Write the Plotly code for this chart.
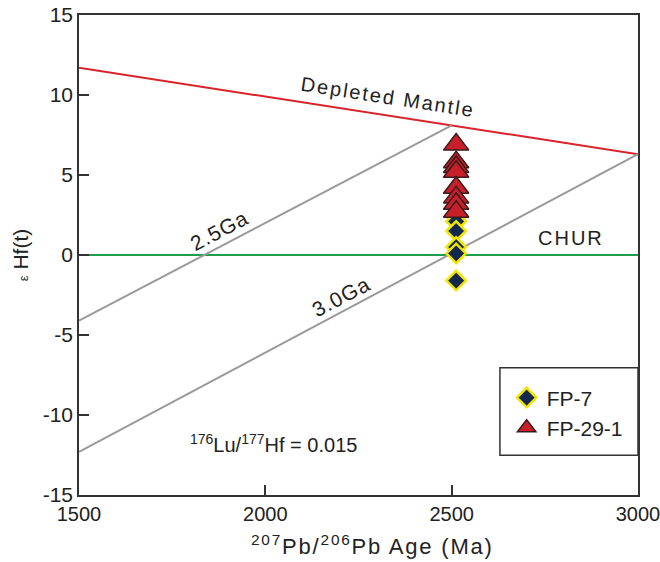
import plotly.graph_objects as go

# Reference lines
dm_age = [1500, 3000]
dm_ehf = [11.7, 6.3]
chur_age = [1500, 3000]
chur_ehf = [0, 0]
ga25_age = [1500, 2500]
ga25_ehf = [-4.1, 8.1]
ga30_age = [1500, 3000]
ga30_ehf = [-12.3, 6.3]

# Samples
fp7_age = [2512, 2512, 2512, 2512, 2512, 2512]
fp7_ehf = [2.4, 2.1, 1.5, 0.5, 0.1, -1.6]
fp29_age = [2512, 2512, 2512, 2512, 2512, 2512, 2512, 2512]
fp29_ehf = [6.9, 5.8, 5.5, 5.2, 4.2, 3.6, 3.2, 2.7]

x_ticks = [1500, 2000, 2500, 3000]
y_ticks = [-15, -10, -5, 0, 5, 10, 15]
y_ticktext = ["-15", "-10", "-5", "0", "5", "10", "15"]

FONT = "Liberation Sans, Arial, sans-serif"

fig = go.Figure()
fig.add_trace(go.Scatter(x=dm_age, y=dm_ehf, mode="lines", line=dict(color="#d9232a", width=2), showlegend=False, hoverinfo="skip"))
fig.add_trace(go.Scatter(x=chur_age, y=chur_ehf, mode="lines", line=dict(color="#1e9e4a", width=2), showlegend=False, hoverinfo="skip"))
fig.add_trace(go.Scatter(x=ga25_age, y=ga25_ehf, mode="lines", line=dict(color="#9a9a9a", width=2), showlegend=False, hoverinfo="skip"))
fig.add_trace(go.Scatter(x=ga30_age, y=ga30_ehf, mode="lines", line=dict(color="#9a9a9a", width=2), showlegend=False, hoverinfo="skip"))

fig.add_trace(go.Scatter(x=fp7_age, y=fp7_ehf, mode="markers", name="FP-7",
                         marker=dict(symbol="diamond", size=15, color="#13284d",
                                     line=dict(color="#f2e600", width=2.5))))
fig.add_trace(go.Scatter(x=fp29_age, y=fp29_ehf, mode="markers", name="FP-29-1",
                         marker=dict(symbol="triangle-up", size=22, color="#c8202a",
                                     line=dict(color="#3a1a1a", width=1.5))))


def spaced(t, px):
    return "<span style='letter-spacing:%spx'>%s</span>" % (px, t)


annots = [
    dict(x=2329, y=9.85, text=spaced("Depleted Mantle", 2), textangle=8.7, size=20, xanchor="center"),
    dict(x=1876, y=1.56, text=spaced("2.5Ga", 1), textangle=-27.5, size=21, xanchor="center"),
    dict(x=2204, y=-2.6, text=spaced("3.0Ga", 1), textangle=-27.8, size=21, xanchor="center"),
    dict(x=2820, y=1.06, text=spaced("CHUR", 2), textangle=0, size=20, xanchor="center"),
    dict(x=1793, y=-11.75, text="<sup>176</sup>Lu/<sup>177</sup>Hf = 0.015", textangle=0, size=20, xanchor="left"),
]
for a in annots:
    fig.add_annotation(x=a["x"], y=a["y"], text=a["text"], textangle=a["textangle"],
                       xanchor=a["xanchor"], showarrow=False,
                       font=dict(family=FONT, color="#222222", size=a["size"]))

# x-axis title (placed as annotation to match reference offset)
fig.add_annotation(xref="paper", yref="paper", x=0.525, y=-0.104, xanchor="center", yanchor="middle",
                   text=spaced("<sup>207</sup>Pb/<sup>206</sup>Pb Age (Ma)", 1.8), showarrow=False,
                   font=dict(family=FONT, color="#222222", size=22))

# legend box
fig.add_shape(type="rect", xref="paper", yref="paper", x0=0.753, x1=1.0, y0=0.083, y1=0.265,
              line=dict(color="#333333", width=1.5), fillcolor="white", layer="below")

fig.update_layout(
    width=660, height=562,
    margin=dict(l=79, r=22, t=15, b=67, autoexpand=False),
    paper_bgcolor="white", plot_bgcolor="white",
    font=dict(family=FONT, size=21, color="#222222"),
    legend=dict(x=0.765, y=0.245, xanchor="left", yanchor="top", bgcolor="rgba(0,0,0,0)",
                font=dict(size=21), itemsizing="trace"),
    xaxis=dict(range=[1500, 3000], tickvals=x_ticks, ticks="inside", ticklen=10, tickwidth=1.5,
               tickcolor="#333", showline=True, linecolor="#333", linewidth=1.5, mirror=True,
               showgrid=False, zeroline=False, automargin=False, ticklabeloverflow="allow",
               tickfont=dict(size=20)),
    yaxis=dict(range=[-15, 15], tickvals=y_ticks, ticktext=y_ticktext, ticks="inside", ticklen=10, tickwidth=1.5,
               tickcolor="#333", showline=True, linecolor="#333", linewidth=1.5, mirror=True,
               showgrid=False, zeroline=False, automargin=False,
               title=dict(text="<span style='font-size:13px'>ε</span> Hf(t)", standoff=8, font=dict(size=21))),
)

fig.write_html("out.html")
